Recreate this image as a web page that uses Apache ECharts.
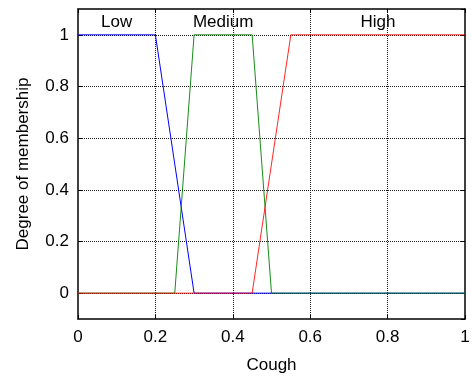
<!DOCTYPE html>
<html>
<head>
<meta charset="utf-8">
<script src="https://cdn.jsdelivr.net/npm/echarts@6/dist/echarts.min.js"></script>
<style>
html,body{margin:0;padding:0;background:#fff;}
#chart{width:473px;height:379px;}
</style>
</head>
<body>
<div id="chart"></div>
<script>
// Membership functions (vertex points of each trapezoid)
const lowX = [0, 0.2, 0.3, 1];
const lowY = [1, 1, 0, 0];
const mediumX = [0, 0.25, 0.3, 0.45, 0.5, 1];
const mediumY = [0, 0, 1, 1, 0, 0];
const highX = [0, 0.45, 0.55, 1];
const highY = [0, 0, 1, 1];

const mfNames = ['Low', 'Medium', 'High'];
const mfLabelX = [0.1, 0.375, 0.775];
const mfLabelY = [1.05, 1.05, 1.05];

const xTicks = [0, 0.2, 0.4, 0.6, 0.8, 1];
const yTicks = [0, 0.2, 0.4, 0.6, 0.8, 1];

const FONT = 'Liberation Sans, Arial, Helvetica, sans-serif';
const FS = 17;
const zip = (xs, ys) => xs.map((x, i) => [x, ys[i]]);

const chart = echarts.init(document.getElementById('chart'));

const gridStyle = { color: '#000', width: 1, type: [1, 1], opacity: 0.9 };

const option = {
  animation: false,
  backgroundColor: '#fff',
  grid: { left: 78, right: 8, top: 9, bottom: 56, containLabel: false },
  xAxis: [
    {
      type: 'value', min: 0, max: 1, interval: 0.2, position: 'bottom',
      name: 'Cough', nameLocation: 'middle', nameGap: 38,
      nameTextStyle: { fontFamily: FONT, fontSize: FS, color: '#000' },
      axisLine: { show: true, onZero: false, lineStyle: { color: '#000', width: 1.5 } },
      axisTick: { show: true, inside: true, length: 4, lineStyle: { color: '#000' } },
      axisLabel: { fontFamily: FONT, fontSize: FS, color: '#000', margin: 10 },
      splitLine: { show: false }
    },
    {
      type: 'value', min: 0, max: 1, interval: 0.2, position: 'top',
      axisLine: { show: true, onZero: false, lineStyle: { color: '#000', width: 1.5 } },
      axisTick: { show: true, inside: true, length: 4, lineStyle: { color: '#000' } },
      axisLabel: { show: false },
      splitLine: { show: false }
    }
  ],
  yAxis: [
    {
      type: 'value', min: -0.1, max: 1.1, splitNumber: 6, position: 'left',
      name: 'Degree of membership', nameLocation: 'middle', nameGap: 46,
      nameTextStyle: { fontFamily: FONT, fontSize: FS, color: '#000' },
      axisLine: { show: true, onZero: false, lineStyle: { color: '#000', width: 1.5 } },
      axisTick: { show: true, inside: true, length: 4, lineStyle: { color: '#000' } },
      axisLabel: { fontFamily: FONT, fontSize: FS, color: '#000', margin: 9, showMinLabel: false, showMaxLabel: false },
      splitLine: { show: false }
    },
    {
      type: 'value', min: -0.1, max: 1.1, splitNumber: 6, position: 'right',
      axisLine: { show: true, onZero: false, lineStyle: { color: '#000', width: 1.5 } },
      axisTick: { show: true, inside: true, length: 4, lineStyle: { color: '#000' } },
      axisLabel: { show: false },
      splitLine: { show: false }
    }
  ],
  series: [
    {
      type: 'line', name: 'grid', silent: true, data: [], symbol: 'none', z: 0,
      markLine: {
        silent: true, symbol: 'none', label: { show: false },
        lineStyle: gridStyle,
        data: xTicks.slice(1, -1).map(v => ({ xAxis: v })).concat(yTicks.map(v => ({ yAxis: v })))
      }
    },
    {
      type: 'line', name: 'Low', data: zip(lowX, lowY), symbol: 'none', z: 5,
      lineStyle: { color: '#0000ff', width: 1 }, itemStyle: { color: '#0000ff' }
    },
    {
      type: 'line', name: 'Medium', data: zip(mediumX, mediumY), symbol: 'none', z: 6,
      lineStyle: { color: '#008000', width: 1, opacity: 0.9 }, itemStyle: { color: '#008000' }
    },
    {
      type: 'line', name: 'High', data: zip(highX, highY), symbol: 'none', z: 7,
      lineStyle: { color: '#ff0000', width: 1, opacity: 0.85 }, itemStyle: { color: '#ff0000' }
    },
    {
      type: 'scatter', name: 'labels', symbolSize: 0, silent: true, z: 8,
      itemStyle: { opacity: 1 },
      data: mfNames.map((n, i) => ({ value: [mfLabelX[i], mfLabelY[i]], name: n })),
      label: {
        show: true, position: 'inside', formatter: p => p.name,
        fontFamily: FONT, fontSize: FS, color: '#000', opacity: 1
      }
    }
  ]
};
chart.setOption(option);
</script>
</body>
</html>
